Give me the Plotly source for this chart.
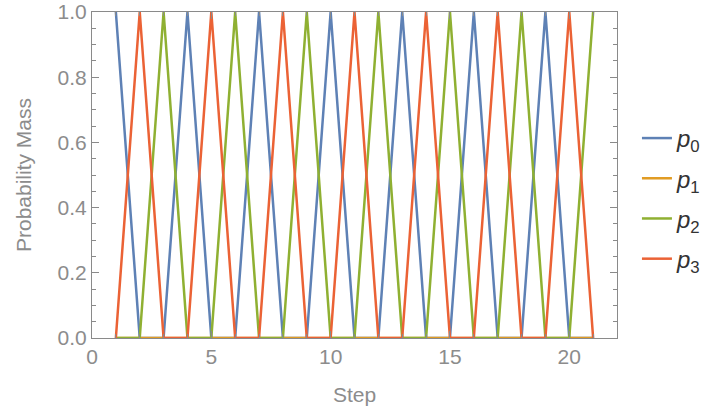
import plotly.graph_objects as go

steps = [1, 2, 3, 4, 5, 6, 7, 8, 9, 10, 11, 12, 13, 14, 15, 16, 17, 18, 19, 20, 21]
p0 = [1, 0, 0, 1, 0, 0, 1, 0, 0, 1, 0, 0, 1, 0, 0, 1, 0, 0, 1, 0, 0]
p1 = [0, 0, 0, 0, 0, 0, 0, 0, 0, 0, 0, 0, 0, 0, 0, 0, 0, 0, 0, 0, 0]
p2 = [0, 0, 1, 0, 0, 1, 0, 0, 1, 0, 0, 1, 0, 0, 1, 0, 0, 1, 0, 0, 1]
p3 = [0, 1, 0, 0, 1, 0, 0, 1, 0, 0, 1, 0, 0, 1, 0, 0, 1, 0, 0, 1, 0]

series = [
    ("<i>p</i><sub>0</sub>", p0, "#5E81B5"),
    ("<i>p</i><sub>1</sub>", p1, "#E19C24"),
    ("<i>p</i><sub>2</sub>", p2, "#8FB032"),
    ("<i>p</i><sub>3</sub>", p3, "#EB6235"),
]

fig = go.Figure()
for i, (name, vals, color) in enumerate(series):
    fig.add_trace(go.Scatter(
        x=steps, y=vals, mode="lines", name=name,
        line=dict(color=color, width=2.5),
        legendgroup=f"g{i}",
    ))

axis_color = "#8a8a8a"
font_family = "Liberation Sans, Arial, sans-serif"
tick_font = dict(family=font_family, size=21, color="#8c8c8c")

fig.update_layout(
    width=719, height=410,
    margin=dict(l=92, r=102, t=12, b=72),
    paper_bgcolor="white", plot_bgcolor="white",
    showlegend=True,
    legend=dict(
        x=1.038, xanchor="left", y=0.428, yanchor="middle",
        font=dict(family=font_family, size=24, color="#333333"),
        itemwidth=30, tracegroupgap=6, traceorder="grouped",
        bgcolor="rgba(0,0,0,0)",
    ),
    xaxis=dict(
        range=[0, 22], dtick=5, tick0=0, automargin=False,
        showgrid=False, zeroline=False,
        showline=True, linecolor=axis_color, linewidth=1.2, mirror="ticks",
        ticks="inside", ticklen=7, tickcolor=axis_color, tickwidth=1,
        minor=dict(dtick=1, ticks="inside", ticklen=4, tickcolor=axis_color, showgrid=False),
        tickfont=tick_font,
        title=dict(text="Step", font=dict(family=font_family, size=21, color="#8c8c8c"), standoff=20),
    ),
    yaxis=dict(
        range=[0, 1], dtick=0.2, tick0=0, tickformat=".1f", automargin=False,
        showgrid=False, zeroline=False,
        showline=True, linecolor=axis_color, linewidth=1.2, mirror="ticks",
        ticks="inside", ticklen=7, tickcolor=axis_color, tickwidth=1,
        minor=dict(dtick=0.05, ticks="inside", ticklen=4, tickcolor=axis_color, showgrid=False),
        tickfont=tick_font,
        title=dict(text="Probability Mass", font=dict(family=font_family, size=21, color="#8c8c8c"), standoff=20),
    ),
)

fig.write_html("out.html")
